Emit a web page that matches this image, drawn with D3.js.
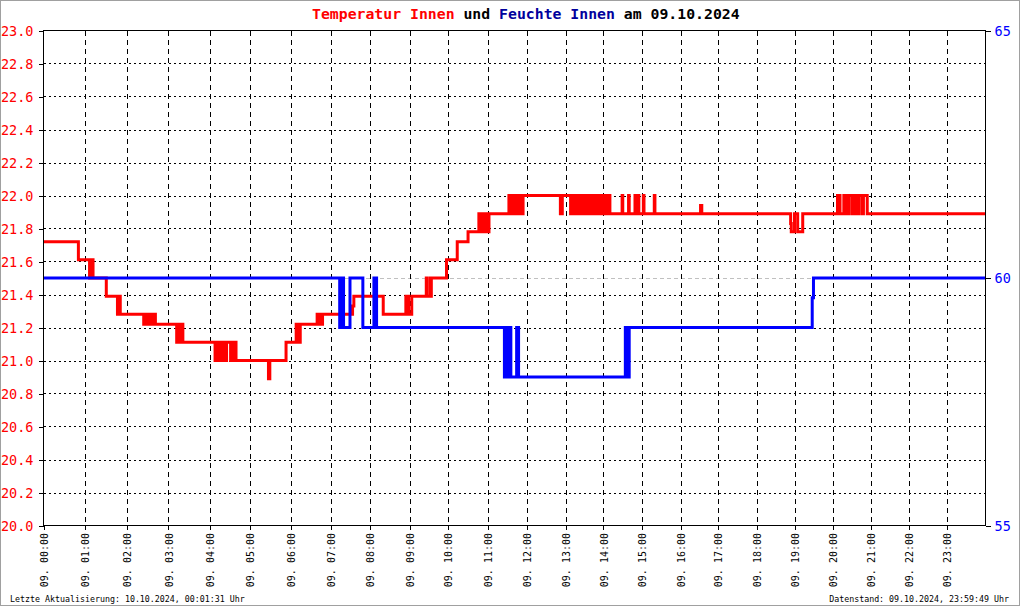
<!DOCTYPE html>
<html><head><meta charset="utf-8">
<script src="https://cdn.jsdelivr.net/npm/d3@7"></script>
<style>
body{margin:0;background:#fff}
svg{display:block}
text{font-family:"DejaVu Sans Mono",monospace}
</style>
</head><body>
<svg id="c" width="1020" height="606"></svg>
<script>
// samples logged per hour (x axis is sample index, as in the original)
const samplesPerHour = [64,64,63,63,62,62,62,59,61,58,62,59,59,58,59,59,57,59,59,58,58,58,58,59];
const hourLabels = ["09. 00:00","09. 01:00","09. 02:00","09. 03:00","09. 04:00","09. 05:00","09. 06:00","09. 07:00",
  "09. 08:00","09. 09:00","09. 10:00","09. 11:00","09. 12:00","09. 13:00","09. 14:00","09. 15:00",
  "09. 16:00","09. 17:00","09. 18:00","09. 19:00","09. 20:00","09. 21:00","09. 22:00","09. 23:00"];
const tempTicks = [20.0,20.2,20.4,20.6,20.8,21.0,21.2,21.4,21.6,21.8,22.0,22.2,22.4,22.6,22.8,23.0];
const humTicks = [55,60,65];

const tempData = [
  ["00:00",21.72],["00:50",21.61],
  ["01:06",21.50],["01:07",21.61],["01:08",21.50],["01:09",21.61],["01:11",21.50],
  ["01:30",21.39],
  ["01:46",21.28],["01:47",21.39],["01:48",21.28],["01:49",21.39],["01:50",21.28],
  ["02:24",21.22],["02:25",21.28],["02:27",21.22],["02:28",21.28],["02:30",21.22],["02:32",21.28],["02:36",21.22],["02:37",21.28],["02:39",21.22],["02:40",21.28],["02:41",21.22],
  ["03:12",21.11],["03:13",21.22],["03:15",21.11],["03:16",21.22],["03:18",21.11],["03:19",21.22],["03:21",21.11],
  ["04:08",21.00],["04:12",21.11],["04:16",21.00],["04:18",21.11],["04:19",21.00],["04:21",21.11],["04:22",21.00],["04:25",21.11],["04:31",21.00],["04:34",21.11],["04:35",21.00],["04:37",21.11],["04:39",21.00],
  ["05:27",20.89],["05:29",21.00],
  ["05:53",21.11],
  ["06:08",21.22],["06:09",21.11],["06:11",21.22],["06:12",21.11],["06:14",21.22],
  ["06:39",21.28],["06:40",21.22],["06:43",21.28],["06:44",21.22],["06:47",21.28],
  ["07:31",21.33],["07:32",21.28],["07:33",21.33],["07:35",21.39],
  ["08:20",21.28],
  ["08:54",21.39],["08:55",21.28],["08:57",21.39],["08:58",21.28],["09:03",21.39],
  ["09:26",21.50],["09:27",21.39],["09:32",21.50],["09:33",21.39],["09:34",21.50],
  ["09:58",21.61],["10:14",21.72],["10:30",21.78],
  ["10:46",21.89],["10:47",21.78],["10:50",21.89],["10:51",21.78],["10:54",21.89],["10:55",21.78],["10:58",21.89],["11:00",21.78],["11:01",21.89],
  ["11:32",22.00],["11:33",21.89],["11:34",22.00],["11:36",21.89],["11:37",22.00],["11:39",21.89],["11:40",22.00],["11:42",21.89],["11:43",22.00],["11:45",21.89],["11:47",22.00],["11:49",21.89],["11:50",22.00],["11:52",21.89],["11:54",22.00],
  ["12:52",21.89],["12:55",22.00],
  ["13:08",21.89],["13:09",22.00],["13:10",21.89],["13:12",22.00],["13:13",21.89],["13:15",22.00],["13:17",21.89],["13:19",22.00],["13:20",21.89],["13:22",22.00],
  ["13:24",21.89],["13:26",22.00],["13:28",21.89],["13:30",22.00],["13:32",21.89],["13:33",22.00],["13:35",21.89],["13:37",22.00],["13:39",21.89],["13:41",22.00],
  ["13:43",21.89],["13:45",22.00],["13:47",21.89],["13:49",22.00],["13:51",21.89],["13:53",22.00],["13:55",21.89],["13:57",22.00],["13:58",21.89],["14:00",22.00],
  ["14:02",21.89],["14:04",22.00],["14:06",21.89],["14:08",22.00],["14:10",21.89],
  ["14:29",22.00],["14:30",21.89],["14:39",22.00],["14:40",21.89],["14:49",22.00],["14:50",21.89],["14:54",22.00],["14:55",21.89],
  ["15:02",22.00],["15:03",21.89],["15:19",22.00],["15:20",21.89],
  ["16:32",21.94],["16:34",21.89],
  ["18:53",21.83],["18:54",21.78],["18:59",21.89],["19:04",21.78],["19:12",21.89],
  ["20:07",22.00],["20:11",21.89],["20:17",22.00],["20:19",21.89],["20:20",22.00],["20:24",21.89],["20:25",22.00],["20:30",21.89],["20:31",22.00],["20:35",21.89],
  ["20:36",22.00],["20:40",21.89],["20:41",22.00],["20:46",21.89],["20:48",22.00],["20:54",21.89],
  ["24:00",21.89]
];

const humData = [
  ["00:00",60],["07:13",59],["07:14",60],["07:16",59],["07:17",60],["07:19",59],["07:29",60],["07:49",59],["08:06",60],["08:08",59],["08:09",60],["08:10",59],
  ["11:25",58],["11:26",59],["11:28",58],["11:29",59],["11:30",58],["11:31",59],["11:33",58],["11:34",59],["11:35",58],["11:44",59],["11:45",58],["11:46",59],["11:47",58],
  ["14:34",59],["14:35",58],["14:37",59],["14:38",58],["14:40",59],
  ["19:27",59.6],["19:29",60],["24:00",60]
];

const title = [["Temperatur Innen","#ff0000"],[" und ","#000000"],["Feuchte Innen","#00009c"],[" am 09.10.2024","#000000"]];
const footLeft = "Letzte Aktualisierung: 10.10.2024, 00:01:31 Uhr";
const footRight = "Datenstand: 09.10.2024, 23:59:49 Uhr";

const W=1020,H=606,L=43.5,R=985.5,T=30.5,B=525.5;
const cum=[0]; samplesPerHour.forEach((n,i)=>cum.push(cum[i]+n));
const x = d3.scaleLinear().domain([0,cum[24]]).range([L,R]);
const toIdx = s => { const [h,m]=s.split(":").map(Number); return h>=24 ? cum[24] : cum[h]+samplesPerHour[h]*m/60; };
const yT = d3.scaleLinear().domain([20,23]).range([B,T]);
const yH = d3.scaleLinear().domain([55,65]).range([B,T]);

const svg = d3.select("#c");
svg.append("rect").attr("x",0.5).attr("y",0.5).attr("width",W-1).attr("height",H-1)
  .attr("fill","#fff").attr("stroke","#a0a0a0");

// grid
const g = svg.append("g").attr("shape-rendering","crispEdges");
g.selectAll(".hg").data(tempTicks.filter(t=>t>20&&t<23)).enter().append("line")
  .attr("x1",L).attr("x2",R).attr("y1",d=>Math.round(yT(d))+0.5).attr("y2",d=>Math.round(yT(d))+0.5)
  .attr("stroke","#000").attr("stroke-dasharray","2,3");
g.selectAll(".hh").data(humTicks.filter(t=>t>55&&t<65)).enter().append("line")
  .attr("x1",L).attr("x2",R).attr("y1",d=>Math.round(yH(d))+0.5).attr("y2",d=>Math.round(yH(d))+0.5)
  .attr("stroke","#c0c0c0").attr("stroke-dasharray","4,3");
g.selectAll(".vg").data(d3.range(1,24)).enter().append("line")
  .attr("x1",d=>Math.round(x(cum[d]))+0.5).attr("x2",d=>Math.round(x(cum[d]))+0.5).attr("y1",T).attr("y2",B)
  .attr("stroke","#000").attr("stroke-dasharray","5,4");

// series
const lineT = d3.line().x(d=>x(toIdx(d[0]))).y(d=>yT(d[1])).curve(d3.curveStepAfter);
const lineH = d3.line().x(d=>x(toIdx(d[0]))).y(d=>yH(d[1])).curve(d3.curveStepAfter);
svg.append("path").datum(tempData).attr("d",lineT).attr("fill","none").attr("stroke","#ff0000").attr("stroke-width",3);
svg.append("path").datum(humData).attr("d",lineH).attr("fill","none").attr("stroke","#0000ff").attr("stroke-width",3);

// frame
svg.append("rect").attr("x",L).attr("y",T).attr("width",R-L).attr("height",B-T)
  .attr("fill","none").attr("stroke","#000").attr("shape-rendering","crispEdges");

// left axis
const axL = svg.append("g").attr("transform",`translate(${L},0)`)
  .call(d3.axisLeft(yT).tickValues(tempTicks).tickFormat(d3.format(".1f")).tickSize(5).tickPadding(5));
axL.select(".domain").remove();
axL.selectAll("line").attr("stroke","#000").attr("shape-rendering","crispEdges");
axL.selectAll("text").attr("fill","#ff0000").style("font-size","13.5px").attr("dy","0.36em");

// right axis
const axR = svg.append("g").attr("transform",`translate(${R},0)`)
  .call(d3.axisRight(yH).tickValues(humTicks).tickSize(5).tickPadding(4));
axR.select(".domain").remove();
axR.selectAll("line").attr("stroke","#000").attr("shape-rendering","crispEdges");
axR.selectAll("text").attr("fill","#0000ff").style("font-size","13.5px").attr("dy","0.36em");

// bottom axis
const axB = svg.append("g").attr("transform",`translate(0,${B})`)
  .call(d3.axisBottom(x).tickValues(cum.slice(0,24)).tickFormat((d,i)=>hourLabels[i]).tickSize(4));
axB.select(".domain").remove();
axB.selectAll("line").attr("stroke","#000").attr("shape-rendering","crispEdges");
axB.selectAll("text").attr("fill","#000").style("font-size","10px")
  .attr("text-anchor","end").attr("transform","rotate(-90)").attr("x",-7.5).attr("y",0).attr("dy","0.36em");

// title
const tt = svg.append("text").attr("x",312).attr("y",18.5).style("font-size","14.8px").style("font-weight","bold");
title.forEach(([s,c])=>tt.append("tspan").attr("fill",c).style("white-space","pre").text(s));
tt.attr("xml:space","preserve");

// footer
svg.append("text").attr("x",10).attr("y",602).style("font-size","8.3px").attr("fill","#000").text(footLeft);
svg.append("text").attr("x",1009).attr("y",602).attr("text-anchor","end").style("font-size","8.3px").attr("fill","#000").text(footRight);
</script>
</body></html>
